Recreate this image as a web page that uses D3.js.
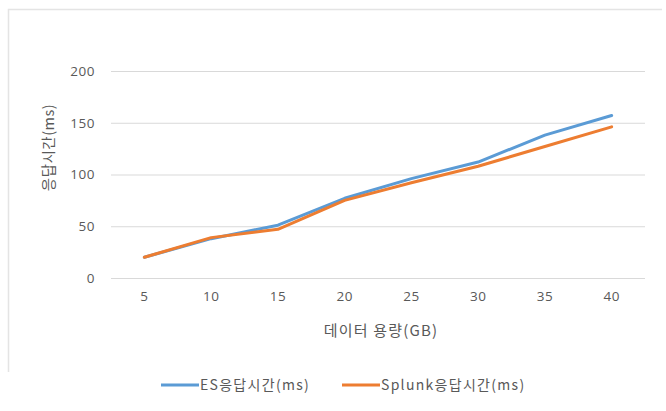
<!DOCTYPE html>
<html>
<head>
<meta charset="utf-8">
<script src="https://cdn.jsdelivr.net/npm/d3@7"></script>
<style>
  html, body { margin: 0; padding: 0; background: #ffffff; }
  svg { display: block; font-family: "Noto Sans CJK KR", "Noto Sans", sans-serif; }
</style>
</head>
<body>
<svg id="chart" width="666" height="411"></svg>
<script>
// Data volume (GB) and response times (ms)
const categories = ["5", "10", "15", "20", "25", "30", "35", "40"];
const esValues = [20, 38, 51, 77, 96, 112, 138, 157];
const splunkValues = [20, 39, 47, 75, 92, 108, 127, 146];
const yTicks = [0, 50, 100, 150, 200];
const seriesNames = ["ES응답시간(ms)", "Splunk응답시간(ms)"];
const seriesColors = ["#5B9BD5", "#ED7D31"];

const svg = d3.select("#chart");

// Faint frame of the chart area
svg.append("path")
  .attr("d", "M8.5,372 L8.5,9.5 L662,9.5")
  .attr("fill", "none")
  .attr("stroke", "#e4e4e4")
  .attr("stroke-width", 1.5);

const plot = { left: 111, right: 645, top: 71, bottom: 278 };

const x = d3.scaleBand()
  .domain(categories)
  .range([plot.left, plot.right]);

const y = d3.scaleLinear()
  .domain([0, 200])
  .range([plot.bottom, plot.top]);

// Horizontal gridlines + y tick labels
const yAxis = d3.axisLeft(y)
  .tickValues(yTicks)
  .tickSize(-(plot.right - plot.left))
  .tickPadding(16);

const gy = svg.append("g")
  .attr("transform", `translate(${plot.left},0)`)
  .call(yAxis);
gy.select(".domain").remove();
gy.selectAll(".tick line").attr("stroke", "#d9d9d9").attr("stroke-width", 1);
gy.selectAll(".tick text")
  .attr("fill", "#595959")
  .attr("font-size", 13.5)
  .attr("letter-spacing", 0.5)
  .attr("font-family", "'Open Sans', 'Noto Sans', sans-serif");

// Category labels along the bottom
const xAxis = d3.axisBottom(x).tickSize(0).tickPadding(13);
const gx = svg.append("g")
  .attr("transform", `translate(0,${plot.bottom})`)
  .call(xAxis);
gx.select(".domain").remove();
gx.selectAll(".tick text")
  .attr("fill", "#595959")
  .attr("font-size", 13.5)
  .attr("letter-spacing", 0.5)
  .attr("font-family", "'Open Sans', 'Noto Sans', sans-serif");

// Axis titles
svg.append("text")
  .attr("x", (plot.left + plot.right) / 2 + 3)
  .attr("y", 336)
  .attr("text-anchor", "middle")
  .attr("fill", "#595959")
  .attr("font-size", 15)
  .attr("letter-spacing", 1.2)
  .text("데이터 용량(GB)");

svg.append("text")
  .attr("transform", `translate(54,${(plot.top + plot.bottom) / 2 - 27}) rotate(-90)`)
  .attr("text-anchor", "middle")
  .attr("fill", "#595959")
  .attr("font-size", 14.5)
  .attr("letter-spacing", 0.5)
  .text("응답시간(ms)");

// Series lines
const line = d3.line()
  .x((d, i) => x(categories[i]) + x.bandwidth() / 2)
  .y(d => y(d));

[esValues, splunkValues].forEach((vals, k) => {
  svg.append("path")
    .datum(vals)
    .attr("fill", "none")
    .attr("stroke", seriesColors[k])
    .attr("stroke-width", 3)
    .attr("stroke-linejoin", "round")
    .attr("stroke-linecap", "round")
    .attr("d", line);
});

// Legend
const legendItems = [
  { x: 161, name: seriesNames[0], color: seriesColors[0] },
  { x: 342, name: seriesNames[1], color: seriesColors[1] }
];
const lg = svg.append("g").attr("transform", "translate(0,385)");
legendItems.forEach(it => {
  lg.append("line")
    .attr("x1", it.x).attr("x2", it.x + 38)
    .attr("y1", 0).attr("y2", 0)
    .attr("stroke", it.color)
    .attr("stroke-width", 3);
  lg.append("text")
    .attr("x", it.x + 39)
    .attr("y", 5)
    .attr("fill", "#595959")
    .attr("font-size", 14)
    .attr("letter-spacing", 1.3)
    .text(it.name);
});
</script>
</body>
</html>
